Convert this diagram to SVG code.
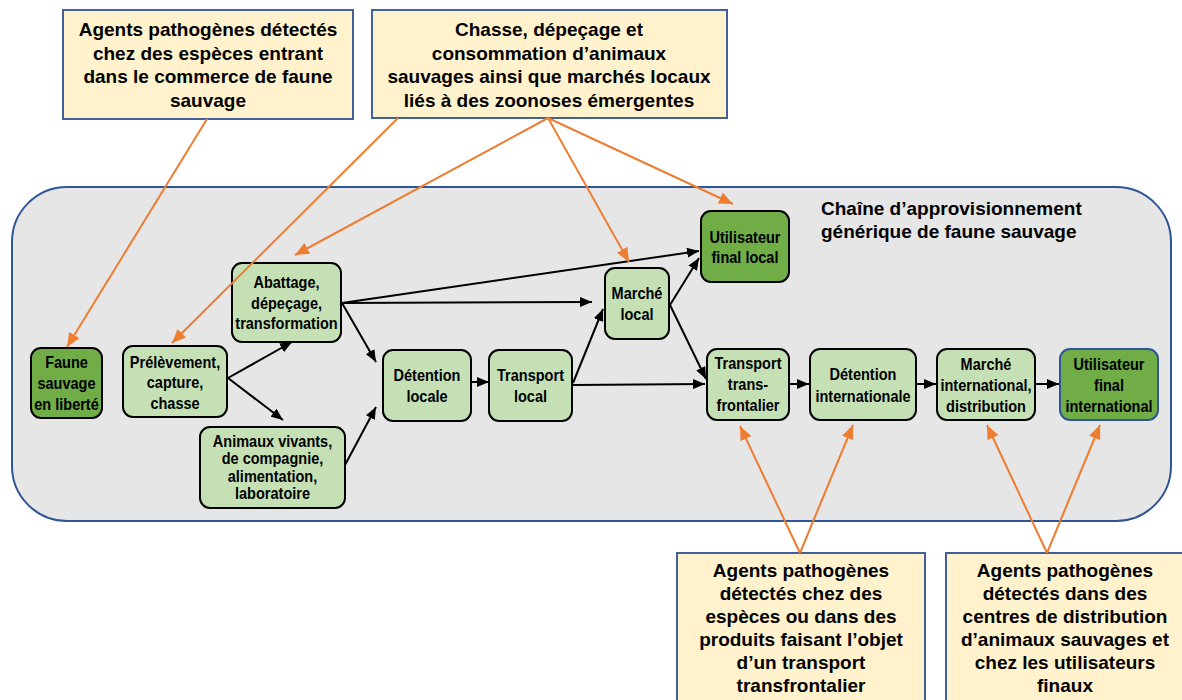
<svg xmlns="http://www.w3.org/2000/svg" width="1182" height="700" viewBox="0 0 1182 700">
<defs>
<style>
.box{fill:#fff2cc;stroke:#41609c;stroke-width:2}
.bt{font-family:"Liberation Sans",Arial,sans-serif;font-weight:bold;font-size:19px;fill:#000;text-anchor:middle}
.title{font-family:"Liberation Sans",Arial,sans-serif;font-weight:bold;font-size:19px;fill:#000}
.lg{fill:#c5e0b4;stroke:#000;stroke-width:2}
.dg{fill:#70ad47;stroke:#000;stroke-width:2}
.dgb{fill:#70ad47;stroke:#2f5597;stroke-width:2}
.nt{font-family:"Liberation Sans",Arial,sans-serif;font-weight:bold;font-size:16.5px;fill:#000;text-anchor:middle}
.bk{stroke:#000;stroke-width:2;fill:none;marker-end:url(#ab)}
.or{stroke:#ed7d31;stroke-width:2;fill:none;marker-end:url(#ao)}
</style>
<marker id="ab" markerUnits="userSpaceOnUse" markerWidth="12" markerHeight="10" refX="12" refY="5" orient="auto"><path d="M0,0 L12,5 L0,10 z" fill="#000"/></marker>
<marker id="ao" markerUnits="userSpaceOnUse" markerWidth="14" markerHeight="12" refX="14" refY="6" orient="auto"><path d="M0,0 L14,6 L0,12 z" fill="#ed7d31"/></marker>
</defs>
<rect width="1182" height="700" fill="#fff"/>
<g id="container">
<rect x="12" y="187" width="1159" height="334" rx="55" ry="55" fill="#e6e6e6" stroke="#2f5597" stroke-width="2"/>
<text class="title" x="821" y="215">Chaîne d’approvisionnement</text>
<text class="title" x="821" y="238">générique de faune sauvage</text>
</g>
<g id="note1">
<rect class="box" x="63" y="10" width="290" height="109"/>
<text class="bt" x="208" y="36">Agents pathogènes détectés</text>
<text class="bt" x="208" y="60">chez des espèces entrant</text>
<text class="bt" x="208" y="83">dans le commerce  de faune</text>
<text class="bt" x="208" y="107">sauvage</text>
</g>
<g id="note2">
<rect class="box" x="372" y="10" width="355" height="108"/>
<text class="bt" x="549" y="36">Chasse, dépeçage et</text>
<text class="bt" x="549" y="60">consommation d’animaux</text>
<text class="bt" x="549" y="83">sauvages ainsi que marchés locaux</text>
<text class="bt" x="549" y="107">liés à des zoonoses émergentes</text>
</g>
<g id="note3">
<rect class="box" x="677" y="553" width="248" height="160"/>
<text class="bt" x="801" y="577">Agents pathogènes</text>
<text class="bt" x="801" y="600">détectés chez des</text>
<text class="bt" x="801" y="623">espèces ou dans des</text>
<text class="bt" x="801" y="646">produits faisant l’objet</text>
<text class="bt" x="801" y="669">d’un transport</text>
<text class="bt" x="801" y="692">transfrontalier</text>
</g>
<g id="note4">
<rect class="box" x="946" y="553" width="240" height="160"/>
<text class="bt" x="1065" y="577">Agents pathogènes</text>
<text class="bt" x="1065" y="600">détectés dans des</text>
<text class="bt" x="1065" y="623">centres de distribution</text>
<text class="bt" x="1065" y="646">d’animaux sauvages et</text>
<text class="bt" x="1065" y="669">chez les utilisateurs</text>
<text class="bt" x="1065" y="692">finaux</text>
</g>
<g id="faune">
<rect class="dg" x="31" y="348" width="71" height="70" rx="10"/>
<g transform="translate(66.5 0) scale(0.88 1)">
<text class="nt" x="0" y="368">Faune</text>
<text class="nt" x="0" y="389">sauvage</text>
<text class="nt" x="0" y="410">en liberté</text>
</g>
</g>
<g id="prelevement">
<rect class="lg" x="123" y="346" width="104" height="71" rx="10"/>
<g transform="translate(175 0) scale(0.88 1)">
<text class="nt" x="0" y="368">Prélèvement,</text>
<text class="nt" x="0" y="388">capture,</text>
<text class="nt" x="0" y="409">chasse</text>
</g>
</g>
<g id="abattage">
<rect class="lg" x="232" y="263" width="109" height="79" rx="10"/>
<g transform="translate(286.5 0) scale(0.88 1)">
<text class="nt" x="0" y="288">Abattage,</text>
<text class="nt" x="0" y="309">dépeçage,</text>
<text class="nt" x="0" y="329">transformation</text>
</g>
</g>
<g id="animaux">
<rect class="lg" x="200" y="427" width="145" height="81" rx="10"/>
<g transform="translate(272.5 0) scale(0.88 1)">
<text class="nt" x="0" y="447">Animaux vivants,</text>
<text class="nt" x="0" y="464">de compagnie,</text>
<text class="nt" x="0" y="482">alimentation,</text>
<text class="nt" x="0" y="499">laboratoire</text>
</g>
</g>
<g id="detention-locale">
<rect class="lg" x="383" y="350" width="88" height="71" rx="10"/>
<g transform="translate(427 0) scale(0.88 1)">
<text class="nt" x="0" y="381">Détention</text>
<text class="nt" x="0" y="402">locale</text>
</g>
</g>
<g id="transport-local">
<rect class="lg" x="489" y="350" width="83" height="71" rx="10"/>
<g transform="translate(530.5 0) scale(0.88 1)">
<text class="nt" x="0" y="381">Transport</text>
<text class="nt" x="0" y="402">local</text>
</g>
</g>
<g id="marche-local">
<rect class="lg" x="605" y="268" width="64" height="71" rx="10"/>
<g transform="translate(637 0) scale(0.88 1)">
<text class="nt" x="0" y="299">Marché</text>
<text class="nt" x="0" y="320">local</text>
</g>
</g>
<g id="utilisateur-local">
<rect class="dg" x="701" y="211" width="88" height="71" rx="10"/>
<g transform="translate(745 0) scale(0.88 1)">
<text class="nt" x="0" y="243">Utilisateur</text>
<text class="nt" x="0" y="263">final local</text>
</g>
</g>
<g id="transport-trans">
<rect class="lg" x="707" y="349" width="82" height="71" rx="10"/>
<g transform="translate(748 0) scale(0.88 1)">
<text class="nt" x="0" y="369">Transport</text>
<text class="nt" x="0" y="390">trans-</text>
<text class="nt" x="0" y="411">frontalier</text>
</g>
</g>
<g id="detention-int">
<rect class="lg" x="810" y="349" width="106" height="71" rx="10"/>
<g transform="translate(863 0) scale(0.88 1)">
<text class="nt" x="0" y="380">Détention</text>
<text class="nt" x="0" y="402">internationale</text>
</g>
</g>
<g id="marche-int">
<rect class="lg" x="937" y="349" width="98" height="71" rx="10"/>
<g transform="translate(986 0) scale(0.88 1)">
<text class="nt" x="0" y="370">Marché</text>
<text class="nt" x="0" y="391">international,</text>
<text class="nt" x="0" y="412">distribution</text>
</g>
</g>
<g id="utilisateur-int">
<rect class="dgb" x="1060" y="349" width="98" height="71" rx="10"/>
<g transform="translate(1109 0) scale(0.88 1)">
<text class="nt" x="0" y="370">Utilisateur</text>
<text class="nt" x="0" y="391">final</text>
<text class="nt" x="0" y="412">international</text>
</g>
</g>
<g id="connectors">
<line class="bk" x1="228" y1="378" x2="292" y2="342"/>
<line class="bk" x1="228" y1="378" x2="283" y2="420"/>
<line class="bk" x1="342" y1="303" x2="376" y2="362"/>
<line class="bk" x1="345" y1="465" x2="376" y2="407"/>
<line class="bk" x1="342" y1="303" x2="699" y2="251"/>
<line class="bk" x1="342" y1="303" x2="592" y2="302"/>
<line class="bk" x1="471" y1="382" x2="489" y2="382"/>
<line class="bk" x1="573" y1="383" x2="603" y2="309"/>
<line class="bk" x1="573" y1="385" x2="705" y2="384"/>
<line class="bk" x1="670" y1="305" x2="699" y2="258"/>
<line class="bk" x1="670" y1="305" x2="706" y2="379"/>
<line class="bk" x1="790" y1="384" x2="809" y2="384"/>
<line class="bk" x1="916" y1="384" x2="936" y2="384"/>
<line class="bk" x1="1035" y1="384" x2="1059" y2="384"/>
<line class="or" x1="207" y1="119" x2="67" y2="347"/>
<line class="or" x1="398" y1="118" x2="172" y2="343"/>
<line class="or" x1="548" y1="118" x2="295" y2="255"/>
<line class="or" x1="548" y1="118" x2="629" y2="262"/>
<line class="or" x1="548" y1="118" x2="733" y2="204"/>
<line class="or" x1="800" y1="553" x2="740" y2="426"/>
<line class="or" x1="800" y1="553" x2="853" y2="425"/>
<line class="or" x1="1047" y1="553" x2="987" y2="425"/>
<line class="or" x1="1047" y1="553" x2="1100" y2="425"/>
</g>
</svg>
